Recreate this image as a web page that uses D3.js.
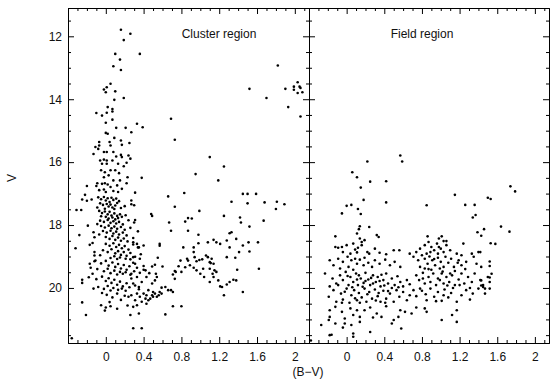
<!DOCTYPE html>
<html><head><meta charset="utf-8">
<script src="https://cdn.jsdelivr.net/npm/d3@7"></script>
<style>body{margin:0;background:#fff}svg{display:block}text{font-family:"Liberation Sans",Arial,sans-serif}</style>
</head><body>
<svg id="c" width="560" height="385"></svg>
<script>
// ---------- data ----------
const panelTitles = ["Cluster region", "Field region"];
const xTickLabels = [0, 0.4, 0.8, 1.2, 1.6, 2];
const yTickLabels = [12, 14, 16, 18, 20];
const xLabel = "(B\u2212V)";
const yLabel = "V";

// [B-V, V] – cluster region
const clusterStars = [
[0.16,11.79],[0.26,11.92],[0.19,12.12],[0.36,12.56],[0.10,12.56],[0.15,12.74],[0.08,12.95],[0.16,13.07],[1.82,12.93],[0.05,13.51],[-0.02,13.69],[0.01,13.62],[0.00,13.78],[0.10,13.75],[1.52,13.67],[1.90,13.67],[1.99,13.60],[1.99,13.70],[2.03,13.46],[2.05,13.60],[2.06,13.64],[2.03,13.80],[2.08,13.78],[2.06,14.55],[1.93,14.25],[1.70,13.96],
[-0.10,14.44],[-0.04,14.52],[0.02,14.25],[0.07,14.31],[0.07,14.39],[0.01,14.43],[0.19,13.96],[0.09,14.02],[0.07,14.65],[0.00,14.75],[0.11,14.91],[0.21,14.91],[0.33,14.78],[0.39,14.89],[0.27,15.05],[0.69,14.62],[0.73,15.29],[0.00,15.07],[0.02,15.10],[0.09,15.23],[0.16,15.31],[0.17,15.45],[0.25,15.39],[0.04,15.36],[0.05,15.47],[-0.07,15.36],[-0.07,15.47],[-0.08,15.58],[-0.11,15.52],[-0.13,15.74],[-0.02,15.68],[0.01,15.68],[0.08,15.68],[0.11,15.82],[0.16,15.77],[0.17,15.84],[0.24,15.79],[0.26,15.89],[-0.06,15.95],[-0.02,15.92],[0.01,15.95],[-0.04,16.05],[0.01,16.05],[0.07,15.95],[0.13,16.05],[0.22,16.02],[0.19,16.13],[1.10,15.84],[1.25,16.14],[0.95,16.38],[1.19,16.58],[0.38,16.50],[-0.05,16.26],[-0.01,16.32],[0.05,16.26],[0.10,16.26],[0.14,16.35],[-0.02,16.48],[0.03,16.42],[0.08,16.58],[0.15,16.58],[0.23,16.48],[0.22,16.67],[-0.09,16.67],[-0.04,16.69],[-0.01,16.67],[0.02,16.71],[-0.10,16.76],[-0.20,16.76],[0.05,16.79],[0.12,16.74],[0.17,16.85],[-0.07,16.89],[-0.02,16.87],[0.00,16.95],[0.08,16.92],[0.13,16.95],[0.31,16.97],[-0.22,17.04],[-0.25,17.19],[-0.15,17.19],[0.66,17.09],[0.83,16.98],[1.45,17.01],[1.50,17.01],[1.59,17.01],
[-0.08,17.12],[-0.05,17.18],[-0.02,17.11],[0.00,17.22],[0.02,17.15],[0.04,17.27],[0.06,17.13],[0.08,17.20],[0.11,17.16],[0.14,17.24],[-0.06,17.31],[-0.03,17.36],[0.01,17.33],[0.03,17.41],[0.05,17.35],[0.07,17.44],[0.10,17.38],[0.12,17.30],[0.16,17.46],[0.20,17.40],[-0.09,17.44],[-0.01,17.48],[0.09,17.49],[0.27,17.22],
[-0.07,17.55],[-0.04,17.62],[-0.01,17.57],[0.02,17.66],[0.04,17.58],[0.06,17.70],[0.09,17.63],[0.12,17.71],[0.15,17.66],[-0.05,17.72],[0.00,17.74],[0.03,17.79],[0.07,17.76],[0.10,17.82],[0.13,17.78],[0.17,17.74],[0.21,17.69],[-0.06,17.86],[-0.02,17.90],[0.02,17.84],[0.05,17.93],[0.08,17.88],[0.11,17.95],[0.14,17.90],[0.18,17.98],[0.24,17.85],[-0.09,17.97],[0.30,17.92],
[-0.05,18.03],[-0.01,18.08],[0.03,18.02],[0.06,18.10],[0.09,18.05],[0.12,18.12],[0.16,18.06],[0.20,18.15],[0.26,18.09],[-0.03,18.19],[0.01,18.24],[0.05,18.18],[0.08,18.27],[0.11,18.21],[0.14,18.30],[0.18,18.24],[0.22,18.33],[0.00,18.38],[0.04,18.44],[0.07,18.35],[0.10,18.47],[0.13,18.40],[0.16,18.50],[0.19,18.43],[0.23,18.52],[0.29,18.41],[-0.07,18.30],[0.34,18.20],
[0.00,18.60],[0.04,18.66],[0.08,18.58],[0.11,18.70],[0.14,18.63],[0.17,18.74],[0.20,18.67],[0.24,18.78],[0.29,18.62],[0.34,18.71],[-0.03,18.80],[0.02,18.86],[0.06,18.77],[0.10,18.90],[0.13,18.83],[0.16,18.95],[0.19,18.86],[0.22,18.98],[0.26,18.89],[0.31,19.01],[0.37,18.93],[0.05,19.05],[0.09,18.99],[0.12,19.08],[0.15,19.03],[0.21,19.07],[0.26,19.09],[-0.06,18.96],
[-0.12,19.15],[-0.05,19.22],[0.00,19.14],[0.03,19.29],[0.07,19.19],[0.10,19.33],[0.13,19.24],[0.16,19.38],[0.19,19.27],[0.22,19.42],[0.25,19.31],[0.29,19.20],[0.33,19.36],[-0.09,19.40],[-0.02,19.47],[0.02,19.39],[0.05,19.53],[0.09,19.45],[0.12,19.57],[0.15,19.49],[0.18,19.55],[0.21,19.50],[0.26,19.58],[0.30,19.47],[0.36,19.52],[-0.14,19.55],[0.40,19.30],
[-0.18,19.66],[-0.10,19.72],[-0.04,19.64],[0.00,19.78],[0.03,19.69],[0.06,19.84],[0.09,19.74],[0.12,19.90],[0.15,19.80],[0.18,19.95],[0.22,19.85],[0.27,19.70],[0.31,19.92],[-0.08,19.97],[-0.02,20.03],[0.02,19.94],[0.05,20.08],[0.08,20.00],[0.13,20.06],[0.17,20.02],[0.21,20.09],[0.25,19.98],[0.35,20.04],
[-0.04,20.16],[0.01,20.22],[0.04,20.45],[0.07,20.30],[0.12,20.18],[0.16,20.38],[0.20,20.25],[-0.05,20.55],[0.00,20.62],[0.05,20.58],[0.12,20.66],[-0.01,20.72],[0.23,20.56],
[-0.31,17.52],[-0.26,17.52],[-0.20,17.23],[-0.32,18.74],[-0.28,18.32],[-0.19,18.02],[-0.25,19.74],[-0.25,19.84],[-0.25,20.46],[-0.21,20.86],[-0.36,21.60],[-0.13,20.02],[-0.17,18.63],[-0.17,19.23],[-0.16,19.36],[-0.12,18.86],[-0.12,18.97],[-0.11,19.13],[-0.13,18.23],[-0.12,18.39],[-0.14,18.57],
[0.73,17.42],[0.99,17.55],[1.25,17.71],[0.48,17.65],[0.49,17.71],[0.67,17.92],[0.69,18.18],[0.84,17.89],[0.87,17.78],[0.91,17.79],[0.87,18.18],[0.98,18.31],[1.14,18.47],[1.08,18.55],[1.17,18.55],[1.21,18.60],[1.28,18.49],[1.31,18.26],[1.33,18.23],[1.38,18.44],[1.31,18.71],[1.42,17.76],[1.43,17.92],[1.52,18.05],[1.41,18.86],[1.52,18.84],[1.61,18.55],[1.62,19.39],[1.67,17.86],[1.68,17.28],[1.80,17.49],[1.81,17.26],[1.89,17.34],[1.33,17.26],[1.50,17.31],
[0.82,18.71],[0.93,18.71],[0.93,18.86],[0.94,19.02],[0.96,19.15],[0.99,19.11],[1.02,19.09],[0.98,18.58],[0.86,19.07],[0.87,19.13],[0.79,19.13],[0.77,19.31],[0.73,19.46],[0.74,19.49],[0.71,19.57],[0.73,19.71],[0.80,19.49],[0.84,19.34],[0.89,19.28],[0.93,19.36],[0.96,19.44],[1.00,19.55],[1.03,19.39],[1.04,19.65],[1.06,18.97],[1.08,19.02],[1.10,19.18],[1.11,19.21],[1.12,19.07],[1.14,19.23],[1.10,19.39],[1.15,19.44],[1.17,19.49],[1.13,19.55],[1.14,19.65],[1.10,19.81],[1.19,19.76],[1.21,19.95],[1.23,19.97],[1.25,20.23],[1.28,19.89],[1.31,19.81],[1.35,19.74],[1.38,19.76],[1.39,19.42],[1.45,20.13],[1.28,19.02],[1.37,19.04],[1.51,18.55],[1.45,18.65],
[0.57,18.60],[0.57,18.66],[0.55,19.04],[0.52,19.26],[0.53,19.55],[0.60,19.32],[0.49,19.32],[0.46,19.53],[0.43,19.65],[0.42,19.44],[0.40,19.42],[0.63,19.97],[0.66,20.07],[0.69,20.07],[0.71,20.13],[0.71,20.58],[0.80,20.58],[0.63,20.84],[0.54,19.65],[0.52,19.76],[0.49,19.86],[0.59,19.99],
[0.24,20.28],[0.26,20.86],[0.29,21.28],[0.38,21.28],[0.35,20.81],[0.33,20.55],[0.36,20.28],[0.40,20.18],[0.43,20.23],[0.47,20.34],[0.49,20.23],[0.45,20.07],[0.50,20.13],[0.52,20.18],[0.54,20.28],[0.56,20.23],[0.59,20.18],[0.33,20.18],[0.31,20.39],[0.38,20.44],[0.42,20.34],[0.29,20.60],[0.43,20.50],[0.27,20.23],[0.45,20.39],[0.50,20.28],[0.57,20.13],[0.35,19.97],[0.38,19.81],[0.29,19.86],[0.33,19.65],[0.27,19.55],[0.31,19.23],[0.29,19.02],[0.36,19.07],[0.35,18.71],[0.29,18.55],[0.40,18.65],[0.33,18.60],[0.31,17.84],[0.30,17.37],[0.27,17.34]
];

// [B-V, V] – field region
const fieldStars = [
[0.06,16.32],[0.11,16.48],[0.22,15.98],[0.25,16.62],[0.15,16.81],[0.42,16.61],[0.57,15.79],[0.59,15.98],[0.18,17.20],[1.15,17.04],[1.50,17.13],[1.53,17.17],[1.74,16.77],[1.79,16.93],
[0.42,17.28],[-0.05,17.63],[0.00,17.39],[0.05,17.36],[0.12,17.49],[0.15,17.65],[0.85,17.37],[1.26,17.36],[1.36,17.36],[1.37,17.68],[1.34,17.76],[1.64,18.05],[1.73,18.21],[1.39,18.23],[1.43,18.34],[1.46,18.13],[1.53,18.58],[1.58,18.60],[1.52,19.16],[1.52,19.67],[1.52,19.81],[1.52,20.02],[1.47,20.02],[1.47,20.18],[1.43,19.76],[1.43,19.92],[1.42,18.86],
[0.14,18.04],[0.13,18.13],[0.24,18.06],[0.32,18.32],[0.34,18.38],[-0.12,18.36],[0.11,18.27],
[0.86,18.36],[0.98,18.43],[1.03,18.51],[1.06,18.51],[1.01,18.36],
[-0.12,18.70],[-0.09,18.72],[-0.05,18.70],[0.00,18.64],[0.07,18.59],[0.14,18.43],[0.16,18.54],[0.16,18.64],[0.12,18.72],[0.09,18.78],[0.11,18.87],[0.22,18.86],[0.24,18.91],[0.35,18.88],[0.19,18.48],[0.30,18.75],[0.50,18.80],[0.56,18.80],[0.42,18.93],[-0.04,18.86],[0.04,18.91],
[0.78,18.75],[0.83,18.64],[0.87,18.54],[0.90,18.70],[0.93,18.80],[0.96,18.59],[1.00,18.75],[1.03,18.86],[1.06,18.64],[1.10,18.80],[0.85,18.91],[0.89,18.86],[0.97,18.91],[1.17,18.91],[0.67,18.91],[0.74,18.86],[1.24,18.59],[1.33,18.91],[1.40,18.86],
[-0.18,19.12],[-0.09,19.07],[-0.04,19.17],[0.01,19.01],[0.05,19.12],[0.09,19.07],[0.11,19.23],[0.14,19.10],[0.18,19.28],[0.19,19.04],[0.23,19.20],[0.27,19.33],[0.30,19.12],[0.35,19.23],[0.41,19.10],[0.46,19.28],[0.51,19.17],[0.57,19.33],[-0.07,19.38],[0.02,19.33],[0.07,19.42],[-0.14,19.28],
[0.71,19.01],[0.76,19.12],[0.80,18.96],[0.83,19.07],[0.86,19.23],[0.88,19.00],[0.91,19.12],[0.94,19.28],[0.97,19.04],[1.00,19.17],[1.03,19.33],[1.05,19.01],[1.08,19.20],[1.11,19.07],[1.14,19.33],[1.19,19.12],[1.22,19.28],[1.27,19.17],[1.35,19.01],[1.38,19.23],[1.43,19.33],[0.78,19.33],[0.83,19.38],[0.90,19.42],[0.99,19.38],[1.22,18.96],
[1.52,19.30],[1.54,19.55],[1.45,19.97],
[-0.23,19.54],[-0.15,19.70],[-0.11,19.86],[-0.07,19.60],[-0.04,19.75],[-0.01,19.49],[0.02,19.91],[0.04,19.65],[0.07,19.81],[0.10,19.54],[0.12,19.91],[0.15,19.70],[0.18,19.84],[0.20,19.52],[0.23,19.73],[0.25,19.91],[0.28,19.60],[0.31,19.81],[0.33,19.65],[0.36,19.95],[0.39,19.75],[0.42,19.54],[0.44,19.86],[0.48,19.70],[0.51,19.91],[0.54,19.63],[0.57,19.81],[0.60,19.95],[0.64,19.75],[0.67,19.88],[-0.09,19.91],[-0.18,19.95],[0.11,19.73],[0.28,19.86],[0.35,19.78],
[0.01,19.62],[0.06,19.98],[0.17,19.96],[0.22,20.20],[0.26,19.68],[0.31,20.40],[0.37,19.58],[0.44,20.10],[0.48,20.00],[0.55,19.98],[-0.02,20.12],[0.09,20.33],[0.20,19.78],[0.13,19.60],[0.34,20.16],[0.40,19.92],
[0.74,19.60],[0.77,19.75],[0.81,19.52],[0.83,19.86],[0.87,19.65],[0.89,19.81],[0.92,19.54],[0.95,19.91],[0.97,19.70],[1.01,19.54],[1.03,19.86],[1.06,19.65],[1.09,19.81],[1.12,19.60],[1.15,19.91],[1.19,19.73],[1.22,19.54],[1.25,19.86],[1.29,19.65],[1.33,19.81],[1.36,19.54],[1.42,19.75],[1.45,19.91],[1.50,19.65],[0.81,19.70],[0.99,19.75],[1.10,19.54],[1.20,19.91],
[0.87,19.40],[0.93,19.08],[1.02,19.48],[1.07,19.92],[1.15,19.46],[1.26,19.40],[1.31,20.00],[0.95,20.42],[1.13,20.00],[0.84,20.20],[1.18,19.20],[0.98,18.70],
[-0.19,20.28],[-0.14,20.07],[-0.11,20.44],[-0.06,20.18],[-0.04,20.37],[0.00,20.02],[0.03,20.47],[0.05,20.23],[0.08,20.07],[0.11,20.39],[0.13,20.16],[0.16,20.30],[0.19,20.02],[0.21,20.44],[0.24,20.13],[0.27,20.34],[0.30,20.05],[0.33,20.26],[0.36,20.44],[0.39,20.09],[0.42,20.34],[0.46,20.18],[0.50,20.44],[0.53,20.07],[0.56,20.28],[0.60,20.13],[0.64,20.39],[0.67,20.23],[0.71,20.07],[-0.05,20.47],[0.14,20.47],[0.41,20.47],
[0.74,20.26],[0.80,20.09],[0.85,20.39],[0.89,20.02],[0.93,20.28],[0.97,20.13],[1.01,20.41],[1.04,20.05],[1.08,20.30],[1.11,20.16],[1.17,20.44],[1.22,20.23],[1.27,20.07],[1.31,20.37],[1.34,20.18],[1.40,20.02],[0.78,20.02],[1.03,20.23],
[-0.18,20.71],[-0.12,20.60],[-0.02,20.97],[0.14,20.92],[0.19,20.71],[0.32,20.81],[0.37,20.92],[0.50,21.02],[0.55,20.92],[0.57,20.71],[0.62,20.76],[0.69,20.81],[0.83,20.65],[0.85,20.76],[1.01,21.02],[1.12,20.86],[1.17,20.71],[0.04,20.65],[0.07,20.86],[-0.05,20.76],[0.25,20.62],[0.42,20.58],[0.74,20.62],[0.11,20.71],[0.28,20.94],[-0.18,20.92],
[-0.27,21.18],[-0.19,21.02],[-0.12,21.13],[-0.18,21.50],[-0.02,21.13],[0.05,21.18],[0.07,21.45],[0.07,21.55],[0.14,21.08],[0.25,21.40],[0.48,21.13],[0.58,21.29],[1.17,21.08],[-0.04,21.26],[-0.38,21.67],[-0.16,21.49]
];

// ---------- layout ----------
const svg = d3.select("#c");
const plotTop = 8, plotBottom = 343;
const panels = [
  {title: panelTitles[0], stars: clusterStars, x0: 68, x1: 309, titleX: 219, yLabels: true},
  {title: panelTitles[1], stars: fieldStars, x0: 309, x1: 549, titleX: 422, yLabels: false}
];
const xDomain = [-0.4, 2.15];
const yDomain = [11.1, 21.75];
const y = d3.scaleLinear().domain(yDomain).range([plotTop, plotBottom]);

const xMinor = d3.range(-4, 22).map(i => i / 10).filter(v => !xTickLabels.some(t => Math.abs(t - v) < 1e-9));
const yMinor = d3.range(23, 44).map(i => i / 2).filter(v => !yTickLabels.includes(v));
const fmt = d => String(+d.toFixed(1));

function styleAxis(g) {
  g.selectAll("path.domain").attr("stroke", "#000").attr("stroke-width", 1);
  g.selectAll(".tick line").attr("stroke", "#000").attr("stroke-width", 1);
  g.selectAll(".tick text").attr("fill", "#111").style("font-size", "12px")
    .style("font-family", '"Liberation Sans", Arial, sans-serif');
}

panels.forEach(p => {
  const x = d3.scaleLinear().domain(xDomain).range([p.x0, p.x1]);
  const g = svg.append("g");

  g.append("g").attr("transform", `translate(0,${plotBottom})`)
    .call(d3.axisBottom(x).tickValues(xMinor).tickSize(-3).tickSizeOuter(0).tickFormat("")).call(styleAxis);
  g.append("g").attr("transform", `translate(0,${plotBottom})`)
    .call(d3.axisBottom(x).tickValues(xTickLabels).tickSize(-6).tickSizeOuter(0).tickPadding(9).tickFormat(fmt)).call(styleAxis);
  g.append("g").attr("transform", `translate(0,${plotTop})`)
    .call(d3.axisTop(x).tickValues(xMinor).tickSize(-3).tickSizeOuter(0).tickFormat("")).call(styleAxis);
  g.append("g").attr("transform", `translate(0,${plotTop})`)
    .call(d3.axisTop(x).tickValues(xTickLabels).tickSize(-6).tickSizeOuter(0).tickFormat("")).call(styleAxis);
  g.append("g").attr("transform", `translate(${p.x0},0)`)
    .call(d3.axisLeft(y).tickValues(yMinor).tickSize(-3).tickSizeOuter(0).tickFormat("")).call(styleAxis);
  g.append("g").attr("transform", `translate(${p.x0},0)`)
    .call(d3.axisLeft(y).tickValues(yTickLabels).tickSize(-6).tickSizeOuter(0).tickPadding(6)
      .tickFormat(p.yLabels ? d3.format("d") : "")).call(styleAxis);
  g.append("g").attr("transform", `translate(${p.x1},0)`)
    .call(d3.axisRight(y).tickValues(yMinor).tickSize(-3).tickSizeOuter(0).tickFormat("")).call(styleAxis);
  g.append("g").attr("transform", `translate(${p.x1},0)`)
    .call(d3.axisRight(y).tickValues(yTickLabels).tickSize(-6).tickSizeOuter(0).tickFormat("")).call(styleAxis);

  g.append("g").selectAll("circle").data(p.stars).join("circle")
    .attr("cx", d => x(d[0])).attr("cy", d => y(d[1])).attr("r", 1.3).attr("fill", "#000");

  g.append("text").attr("x", p.titleX).attr("y", 38).attr("text-anchor", "middle")
    .style("font-size", "12px").attr("fill", "#111").text(p.title);
});

svg.append("text").attr("x", 308).attr("y", 376).attr("text-anchor", "middle")
  .style("font-size", "12px").attr("fill", "#111").text(xLabel);
svg.append("text").attr("transform", "translate(16,178) rotate(-90)").attr("text-anchor", "middle")
  .style("font-size", "12px").attr("fill", "#111").text(yLabel);
</script>
</body></html>
